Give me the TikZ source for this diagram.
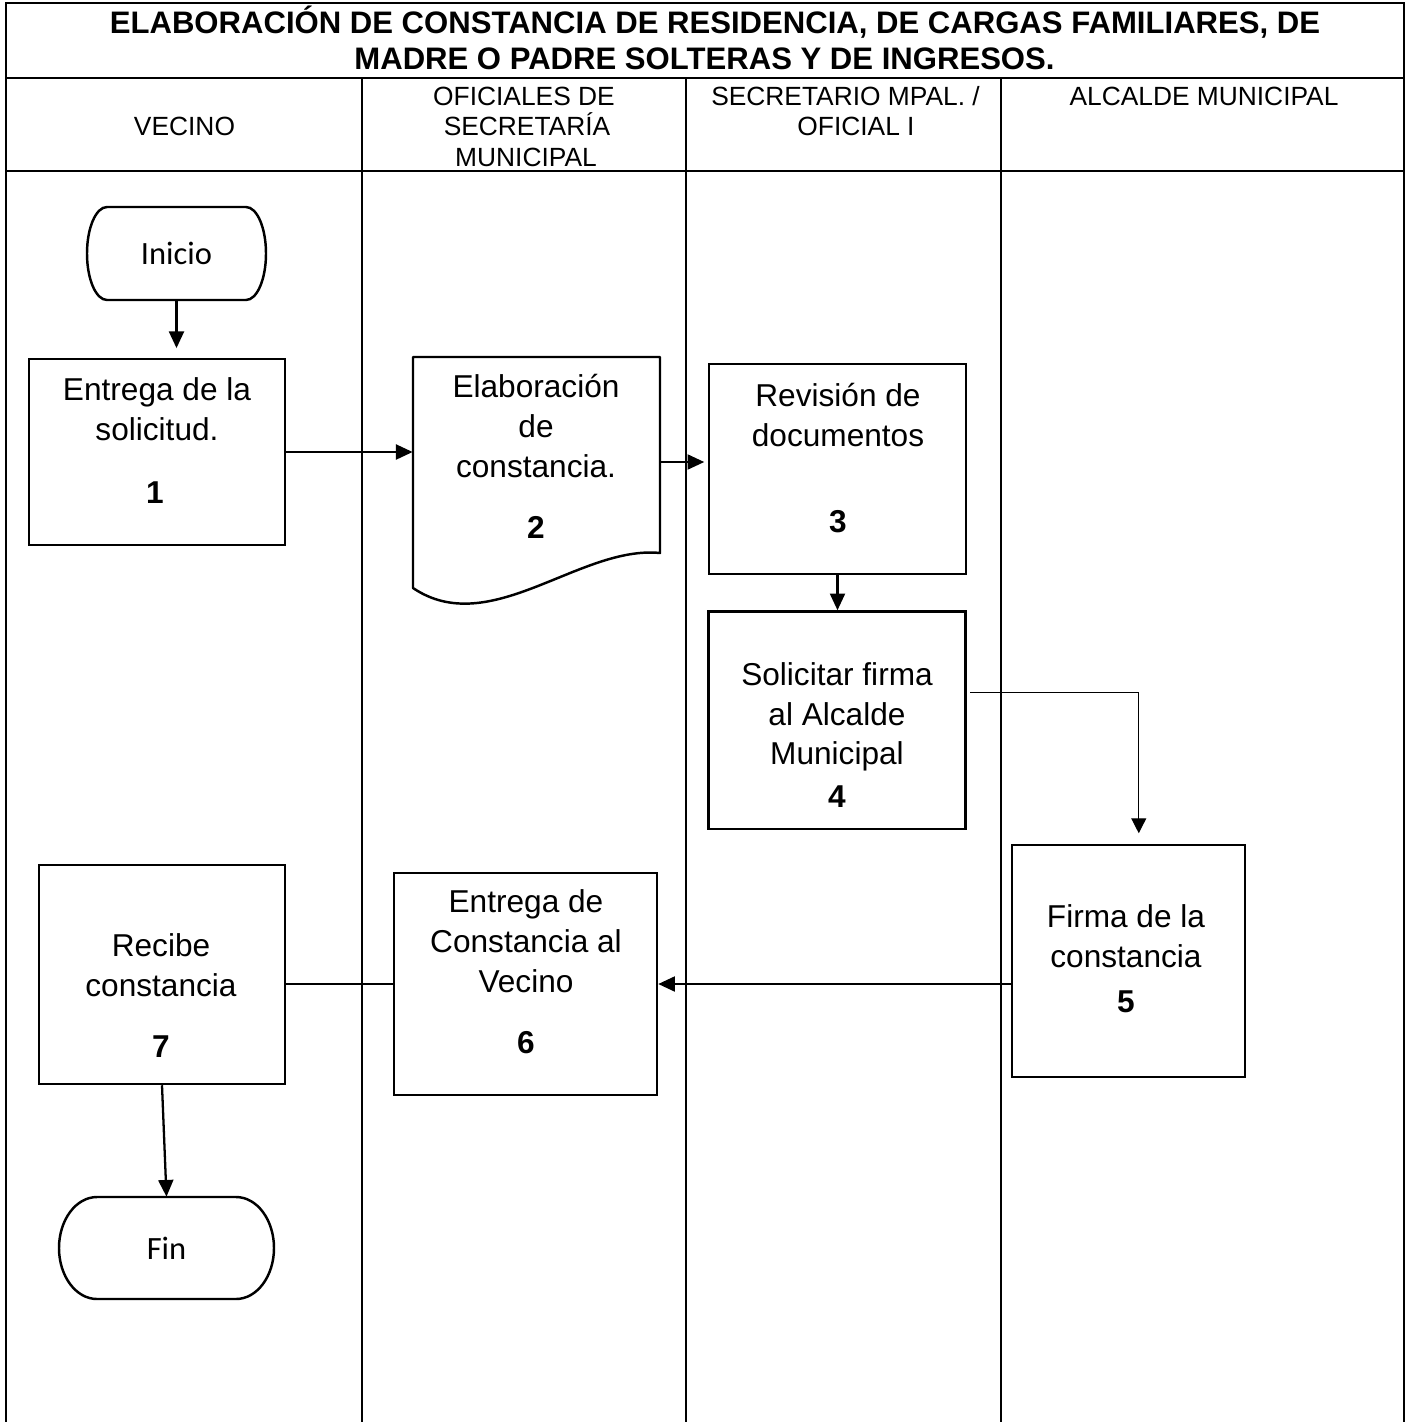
\documentclass[tikz,border=0pt]{standalone}
\usepackage{fontspec}
\setmainfont{Liberation Sans}
\newfontfamily\termfont{Carlito}
\usetikzlibrary{arrows.meta}
% one drawing unit
\newcommand\pxu{0.5693pt}

\begin{document}
\begin{tikzpicture}[x=\pxu, y=-\pxu,
  frame/.style={line width=1.2pt},
  procbox/.style 2 args={draw, line width=1.4pt, inner sep=0pt,
    minimum width=#1*\pxu, minimum height=#2*\pxu},
  areabox/.style 2 args={inner sep=0pt,
    minimum width=#1*\pxu, minimum height=#2*\pxu},
  termbox/.style 2 args={areabox={#1}{#2}, font=\termfont\fontsize{18.5}{21}\selectfont},
  outline/.style={line width=1.4pt, line join=round},
  ttl/.style={anchor=base, inner sep=0pt, font=\fontsize{17.7}{20}\selectfont\bfseries},
  hdr/.style={anchor=base, inner sep=0pt, font=\fontsize{15}{17}\selectfont},
  txt/.style={anchor=base, inner sep=0pt, font=\fontsize{18}{21}\selectfont},
  num/.style={anchor=base, inner sep=0pt, font=\fontsize{18}{21}\selectfont\bfseries},
  arr/.style={-{Triangle[length=9.5pt,width=8.5pt]}, line width=1.3pt},
  thinarr/.style={-{Triangle[length=8.5pt,width=8.5pt]}, line width=0.7pt},
  thinline/.style={line width=0.7pt}]

\useasboundingbox (0,0) rectangle (1411,1422);

% swimlane frame
\draw[frame] (6,1422) -- (6,3) -- (1404,3) -- (1404,1422);
\draw[frame] (6,78) -- (1404,78);
\draw[frame] (6,171) -- (1404,171);
\draw[frame] (362,78) -- (362,1422);
\draw[frame] (686,78) -- (686,1422);
\draw[frame] (1001,78) -- (1001,1422);

% title
\node[ttl] (title1) at (715,33) {ELABORACIÓN DE CONSTANCIA DE RESIDENCIA, DE CARGAS FAMILIARES, DE};
\node[ttl] (title2) at (704.5,69) {MADRE O PADRE SOLTERAS Y DE INGRESOS.};

% lane headers
\node[hdr] (h1) at (184.5,135.5) {VECINO};
\node[hdr] (h2a) at (524,105.5) {OFICIALES DE};
\node[hdr] (h2b) at (527,135.5) {SECRETARÍA};
\node[hdr] (h2c) at (526,166.5) {MUNICIPAL};
\node[hdr] (h3a) at (845.5,105.5) {SECRETARIO MPAL. /};
\node[hdr] (h3b) at (856,135.5) {OFICIAL I};
\node[hdr] (h4) at (1204,105.5) {ALCALDE MUNICIPAL};

% start terminator
\node[termbox={179}{93}] (ini) at (176.5,253.5) {Inicio};
\draw[outline] (107,207) -- (246,207)
  .. controls (257.05,207) and (266,227.82) .. (266,253.5)
  .. controls (266,279.18) and (257.05,300) .. (246,300) -- (107,300)
  .. controls (95.95,300) and (87,279.18) .. (87,253.5)
  .. controls (87,227.82) and (95.95,207) .. (107,207) -- cycle;

% step 1
\node[procbox={256}{186}] (b1) at (157,452) {};
\node[txt] (b1a) at (157,400.5) {Entrega de la};
\node[txt] (b1b) at (157,440.5) {solicitud.};
\node[num] (b1n) at (155,503) {1};

% step 2 (document)
\node[areabox={247}{210}] (d2) at (536.5,462) {};
\draw[outline] (413,588) -- (413,357) -- (660,357) -- (660,553)
  .. controls (580,545) and (490,640) .. (413,588) -- cycle;
\node[txt] (d2a) at (536,397) {Elaboración};
\node[txt] (d2b) at (536,437) {de};
\node[txt] (d2c) at (536,477) {constancia.};
\node[num] (d2n) at (536,538) {2};

% step 3
\node[procbox={257}{210}] (b3) at (837.5,469) {};
\node[txt] (b3a) at (838,406) {Revisión de};
\node[txt] (b3b) at (838,446) {documentos};
\node[num] (b3n) at (838,532) {3};

% step 4
\node[procbox={257}{217.5}] (b4) at (837,720.25) {};
\node[txt] (b4a) at (837,685) {Solicitar firma};
\node[txt] (b4b) at (837,725) {al Alcalde};
\node[txt] (b4c) at (837,764) {Municipal};
\node[num] (b4n) at (837,807) {4};

% step 5
\node[procbox={233}{232}] (b5) at (1128.5,961) {};
\node[txt] (b5a) at (1126,927) {Firma de la};
\node[txt] (b5b) at (1126,967) {constancia};
\node[num] (b5n) at (1126,1012) {5};

% step 6
\node[procbox={263}{222}] (b6) at (525.5,984) {};
\node[txt] (b6a) at (526,912) {Entrega de};
\node[txt] (b6b) at (526,952) {Constancia al};
\node[txt] (b6c) at (526,992) {Vecino};
\node[num] (b6n) at (526,1053) {6};

% step 7
\node[procbox={246}{219}] (b7) at (162,974.5) {};
\node[txt] (b7a) at (161,956) {Recibe};
\node[txt] (b7b) at (161,996) {constancia};
\node[num] (b7n) at (161,1057) {7};

% end terminator
\node[termbox={215}{102}] (fin) at (166.5,1248) {Fin};
\draw[outline] (97,1197) -- (236,1197)
  .. controls (257,1197) and (274,1219.83) .. (274,1248)
  .. controls (274,1276.17) and (257,1299) .. (236,1299) -- (97,1299)
  .. controls (76,1299) and (59,1276.17) .. (59,1248)
  .. controls (59,1219.83) and (76,1197) .. (97,1197) -- cycle;

% connectors
\draw[arr, shorten >=5.5pt] (ini.south) -- (ini.south |- b1.north);
\draw[arr] (b1.east) -- (b1.east -| d2.west);
\draw[arr, shorten >=2pt] (d2.east) -- (d2.east -| b3.west);
\draw[arr] (b3.south) -- (b3.south |- b4.north);
\draw[thinarr, shorten <=2pt, shorten >=6pt] (b4.12) -| (b5.85);
\draw[arr] (b6.east -| b5.west) -- (b6.east);
\draw[thinline] (b6.west) -- (b6.west -| b7.east);
\draw[arr] (b7.south) -- (fin.north);

\end{tikzpicture}
\end{document}
